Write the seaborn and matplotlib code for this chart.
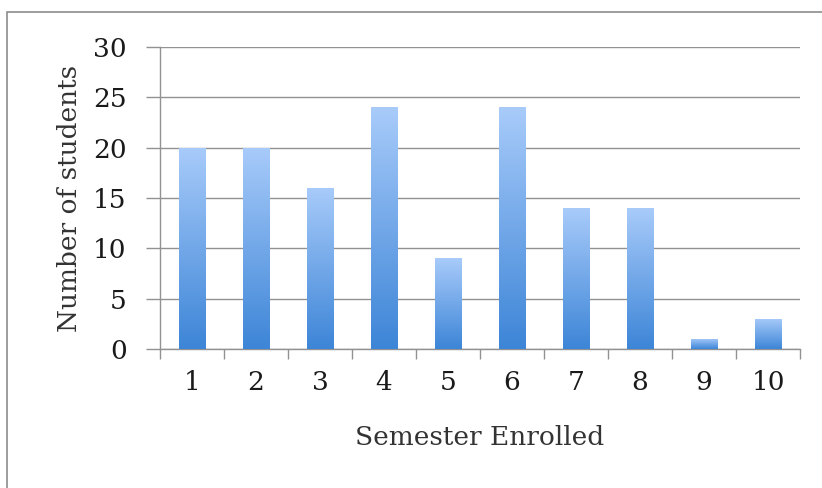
import matplotlib
matplotlib.use("Agg")
import matplotlib.pyplot as plt
import seaborn as sns
import numpy as np
import pandas as pd
from matplotlib.colors import LinearSegmentedColormap
from matplotlib.patches import Rectangle

semesters = ["1", "2", "3", "4", "5", "6", "7", "8", "9", "10"]
students = [20, 20, 16, 24, 9, 24, 14, 14, 1, 3]
y_ticks = [0, 5, 10, 15, 20, 25, 30]

sns.set_theme(style="white")
plt.rcParams['font.family'] = ['DejaVu Serif']

df = pd.DataFrame({"semester": semesters, "students": students})

fig = plt.figure(figsize=(8.22, 4.88), dpi=100)
ax = fig.add_axes([160/822, 1 - 349/488, 640/822, (349-47)/488])

sns.barplot(data=df, x="semester", y="students", color="#6fa8e8", width=0.41, ax=ax,
            saturation=1)

cmap = LinearSegmentedColormap.from_list("grad", ["#3d85d7", "#a8cbfa"])
grad = np.linspace(0, 1, 256).reshape(-1, 1)
for p in ax.patches:
    x0, y0 = p.get_x(), p.get_y()
    w, h = p.get_width(), p.get_height()
    im = ax.imshow(grad, cmap=cmap, aspect="auto", origin="lower",
                   extent=[x0, x0 + w, 0, h], zorder=3)
    im.set_clip_path(p)
    p.set_facecolor("none")
    p.set_edgecolor("none")

ax.set_xlim(-0.5, 9.5)
ax.set_ylim(0, 30)
ax.set_yticks(y_ticks)
ax.set_yticklabels([str(v) for v in y_ticks])
ax.yaxis.grid(True, color="#929292", linewidth=1.0)
ax.set_axisbelow(True)

for s in ["top", "right"]:
    ax.spines[s].set_visible(False)
ax.spines["left"].set_color("#929292")
ax.spines["bottom"].set_color("#929292")
ax.spines["left"].set_linewidth(1.0)
ax.spines["bottom"].set_linewidth(1.0)

fs = 19
ax.tick_params(axis="y", length=10, width=1, color="#929292", labelsize=fs, pad=14,
               left=True)
ax.set_xticks(np.arange(-0.5, 10.0, 1.0), minor=True)
ax.tick_params(axis="x", which="major", length=0, labelsize=fs, pad=15)
ax.tick_params(axis="x", which="minor", length=7, width=1, color="#929292", bottom=True)

ax.set_xlabel("Semester Enrolled", fontsize=fs, color="#333333", labelpad=22)
ax.set_ylabel("Number of students", fontsize=fs, color="#333333", labelpad=8)
for t in ax.get_xticklabels() + ax.get_yticklabels():
    t.set_color("#1a1a1a")

fig.patches.append(Rectangle((7/822, -0.1), 1.2, (488-12)/488 + 0.1,
                             transform=fig.transFigure, fill=False,
                             edgecolor="#8c8c8c", linewidth=1.2, zorder=0))

fig.savefig("out.png", dpi=100)
